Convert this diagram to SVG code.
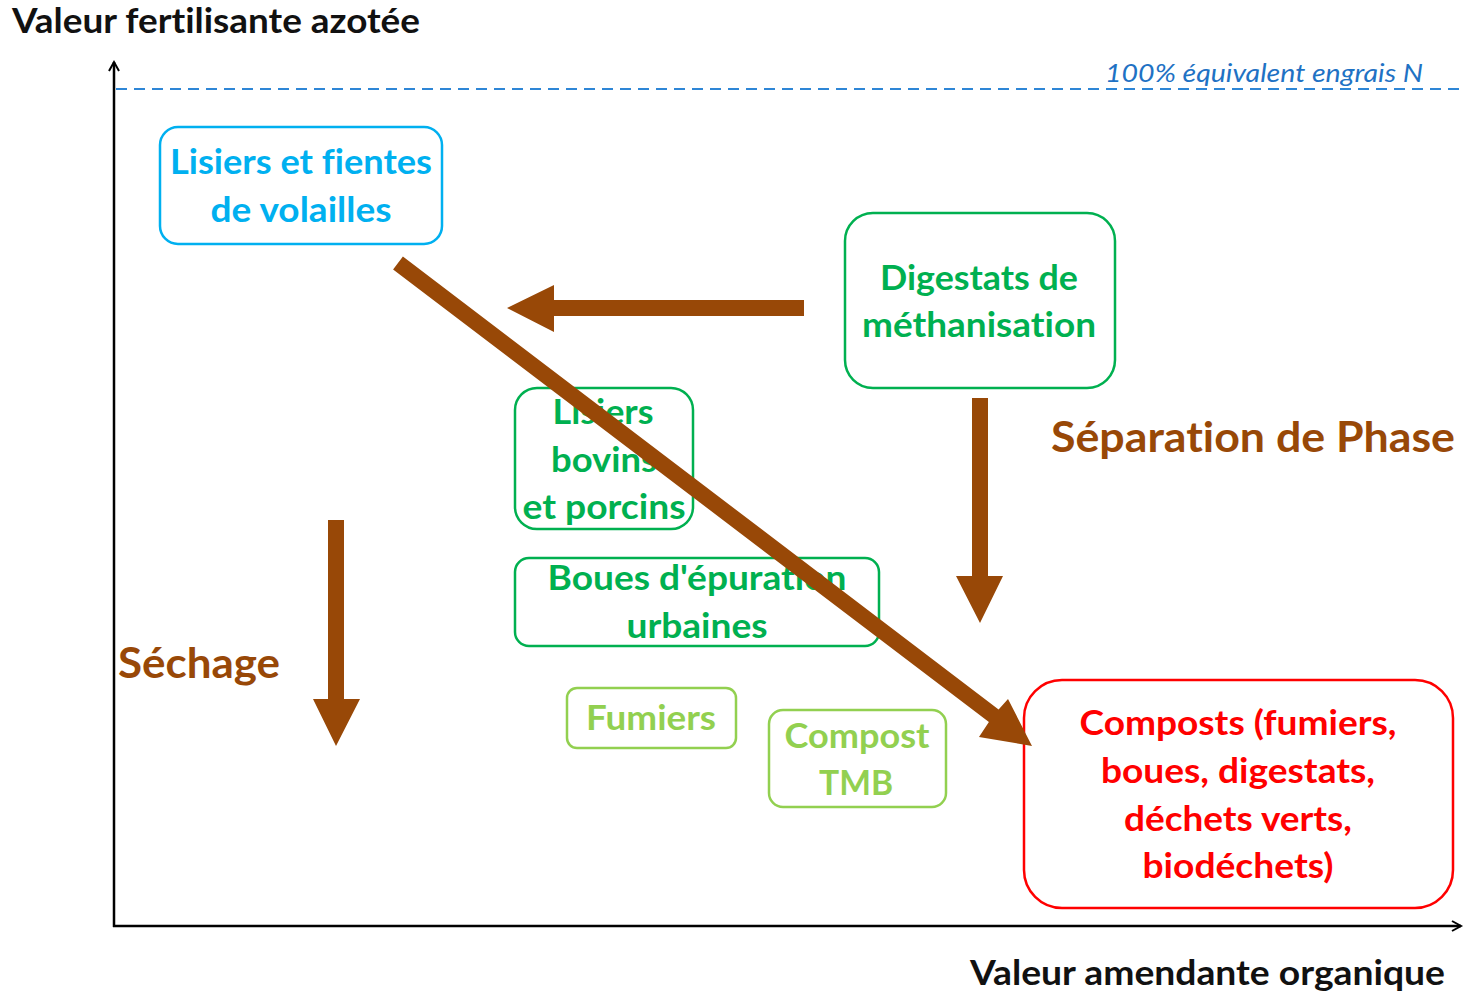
<svg xmlns="http://www.w3.org/2000/svg" width="1464" height="996" viewBox="0 0 1464 996">
<defs>
<style>
text{font-family:Lato,"Open Sans","Liberation Sans",sans-serif;font-variant-ligatures:none}
.t{font-weight:bold;text-anchor:middle}
.box{fill:none;stroke-width:2.5}
.cy{fill:#00B0F0}.cyb{stroke:#00B0F0}
.gr{fill:#00B050}.grb{stroke:#00B050}
.lg{fill:#92D050}.lgb{stroke:#92D050}
.rd{fill:#FF0000}.rdb{stroke:#FF0000}
.br{fill:#984807}
.n{font-size:35px}
.ax{font-weight:bold;font-size:34px;fill:#111}
.lb{font-weight:bold;font-size:42px}
</style>
<marker id="ax" markerWidth="14" markerHeight="14" refX="10" refY="6" orient="auto" markerUnits="userSpaceOnUse">
<path d="M1,1 L10,6 L1,11" fill="none" stroke="#000" stroke-width="2"/>
</marker>
</defs>
<rect width="1464" height="996" fill="#fff"/>
<g id="axes">
<line x1="114" y1="927" x2="114" y2="62" stroke="#000" stroke-width="2.5" marker-end="url(#ax)"/>
<line x1="113" y1="926" x2="1461" y2="926" stroke="#000" stroke-width="2.5" marker-end="url(#ax)"/>
<line x1="116" y1="89" x2="1464" y2="89" stroke="#2E86D6" stroke-width="2" stroke-dasharray="11,7"/>
<text class="ax" x="12" y="33" textLength="408" lengthAdjust="spacingAndGlyphs">Valeur fertilisante azotée</text>
<text class="ax" x="970" y="985" textLength="475" lengthAdjust="spacingAndGlyphs">Valeur amendante organique</text>
<text x="1105" y="82" style="font-style:italic;font-size:26px" fill="#1F72C4" textLength="318" lengthAdjust="spacingAndGlyphs">100% équivalent engrais N</text>
</g>
<g id="n-volailles">
<rect class="box cyb" x="160" y="127" width="282" height="117" rx="18"/>
<text class="t n cy" x="301" y="174" textLength="262" lengthAdjust="spacingAndGlyphs">Lisiers et fientes</text>
<text class="t n cy" x="301" y="222" textLength="181" lengthAdjust="spacingAndGlyphs">de volailles</text>
</g>
<g id="n-digestats">
<rect class="box grb" x="845" y="213" width="270" height="175" rx="28"/>
<text class="t n gr" x="979" y="290" textLength="198" lengthAdjust="spacingAndGlyphs">Digestats de</text>
<text class="t n gr" x="979" y="337" textLength="234" lengthAdjust="spacingAndGlyphs">méthanisation</text>
</g>
<g id="n-bovins">
<rect class="box grb" x="515" y="388" width="178" height="141" rx="22"/>
<text class="t n gr" x="603" y="424" textLength="101" lengthAdjust="spacingAndGlyphs">Lisiers</text>
<text class="t n gr" x="604" y="472" textLength="106" lengthAdjust="spacingAndGlyphs">bovins</text>
<text class="t n gr" x="604" y="519" textLength="163" lengthAdjust="spacingAndGlyphs">et porcins</text>
</g>
<g id="n-boues">
<rect class="box grb" x="515" y="558" width="364" height="88" rx="14"/>
<text class="t n gr" x="697" y="590" textLength="299" lengthAdjust="spacingAndGlyphs">Boues d'épuration</text>
<text class="t n gr" x="697" y="638" textLength="141" lengthAdjust="spacingAndGlyphs">urbaines</text>
</g>
<g id="n-fumiers">
<rect class="box lgb" x="567" y="688" width="169" height="60" rx="10"/>
<text class="t n lg" x="651" y="730" textLength="130" lengthAdjust="spacingAndGlyphs">Fumiers</text>
</g>
<g id="n-tmb">
<rect class="box lgb" x="769" y="710" width="177" height="97" rx="14"/>
<text class="t n lg" x="857" y="748" textLength="145" lengthAdjust="spacingAndGlyphs">Compost</text>
<text class="t n lg" x="856" y="795" textLength="74" lengthAdjust="spacingAndGlyphs">TMB</text>
</g>
<g id="n-composts">
<rect class="box rdb" x="1024" y="680" width="429" height="228" rx="38"/>
<text class="t n rd" x="1238" y="735" textLength="317" lengthAdjust="spacingAndGlyphs">Composts (fumiers,</text>
<text class="t n rd" x="1238" y="783" textLength="274" lengthAdjust="spacingAndGlyphs">boues, digestats,</text>
<text class="t n rd" x="1238" y="831" textLength="228" lengthAdjust="spacingAndGlyphs">déchets verts,</text>
<text class="t n rd" x="1238" y="878" textLength="191" lengthAdjust="spacingAndGlyphs">biodéchets)</text>
</g>
<g id="labels">
<text x="1051" y="452" class="br lb" textLength="404" lengthAdjust="spacingAndGlyphs">Séparation de Phase</text>
<text x="118" y="678" class="br lb" textLength="162" lengthAdjust="spacingAndGlyphs">Séchage</text>
</g>
<g id="connectors" fill="#984807">
<polygon points="804,300 554,300 554,285 507,308 554,332 554,316 804,316"/>
<polygon points="972,398 988,398 988,576 1003,576 980,623 956,576 972,576"/>
<polygon points="328,520 344,520 344,699 360,699 336,746 313,699 328,699"/>
<polygon points="402.9,256.6 998.6,709.4 1008,699 1032,746 979,737 988.9,722.1 393.1,269.4"/>
</g>
</svg>
